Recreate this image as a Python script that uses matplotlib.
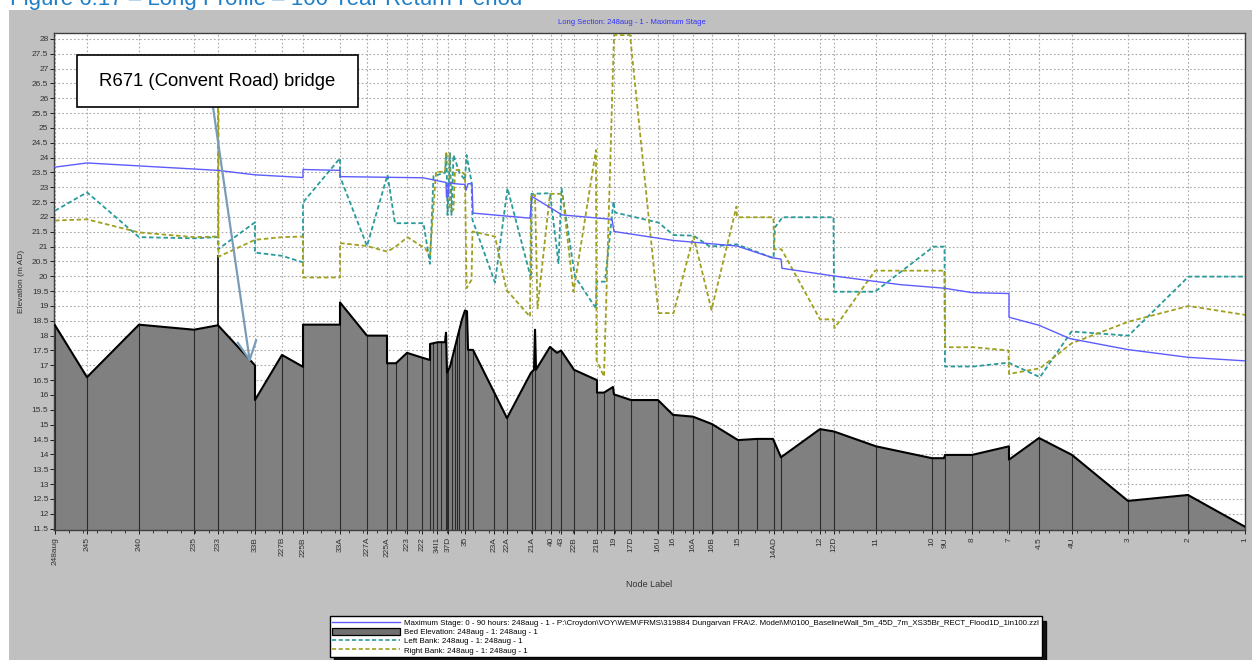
import matplotlib
matplotlib.use("Agg")
import matplotlib.pyplot as plt
import numpy as np
from matplotlib.lines import Line2D
from matplotlib.patches import Patch, Rectangle
from matplotlib.ticker import FixedLocator, MultipleLocator, FormatStrFormatter

plt.rcParams['font.family'] = ['Liberation Sans', 'DejaVu Sans']

# node labels and their chainage along the reach (m)
node_labels = ['248aug', '245', '240', '235', '233', '33B', '227B', '225B', '33A', '227A',
               '225A', '223', '222', '34I1', '37D', '35', '23A', '22A', '21A', '40', '43',
               '22B', '21B', '19', '17D', '16U', '16', '16A', '16B', '15', '14AD', '12',
               '12D', '11', '10', '9U', '8', '7', '4.5', '4U', '3', '2', '1']
node_ch = [0, 64, 168, 278, 326, 400, 454, 496, 570, 624,
           664, 704, 734, 764, 786, 820, 878, 904, 954, 992, 1012,
           1038, 1084, 1118, 1152, 1206, 1236, 1276, 1314, 1366, 1438, 1530,
           1558, 1642, 1754, 1780, 1834, 1908, 1968, 2034, 2146, 2266, 2380]
# unlabelled sections (interpolates, spills, bridge faces)
extra_ch = [682, 750, 756, 772, 782, 784, 794, 800, 804, 808, 826, 836, 960, 1098, 1404, 1452]

# bed elevation (m AD)
bed_ch = [0, 64, 168, 278, 326, 400, 400, 454, 496, 496, 570, 570, 624, 664, 664, 682,
          704, 736, 750, 750, 766, 780, 782, 784, 790, 814, 820, 824, 826, 836, 904,
          952, 958, 960, 962, 990, 1004, 1012, 1038, 1084, 1084, 1098, 1116, 1118,
          1152, 1206, 1236, 1276, 1314, 1366, 1404, 1436, 1452, 1530, 1558, 1642,
          1754, 1778, 1780, 1834, 1908, 1908, 1968, 2034, 2146, 2266, 2380]
bed_z = [18.35, 16.6, 18.37, 18.2, 18.35, 17.0, 15.83, 17.35, 16.95, 18.37, 18.37, 19.12,
         18.0, 18.0, 17.07, 17.07, 17.42, 17.25, 17.18, 17.72, 17.78, 17.78, 18.1, 16.75,
         16.95, 18.55, 18.85, 18.82, 17.52, 17.52, 15.22, 16.75, 16.85, 18.2, 16.85,
         17.62, 17.42, 17.5, 16.85, 16.5, 16.08, 16.08, 16.27, 16.02, 15.83, 15.83,
         15.33, 15.27, 15.02, 14.48, 14.52, 14.52, 13.9, 14.85, 14.77, 14.27, 13.87,
         13.87, 13.98, 13.98, 14.27, 13.82, 14.55, 13.98, 12.43, 12.63, 11.56]
bridge_ch = 326
bridge_soffit = 20.72

# maximum stage, 0 - 90 hours
stage_ch = [0, 64, 326, 400, 496, 496, 570, 570, 736, 780, 782, 783, 786, 787, 814, 820,
            822, 826, 834, 836, 950, 954, 1014, 1114, 1118, 1236, 1364, 1436, 1452,
            1454, 1558, 1690, 1778, 1834, 1908, 1908, 1968, 2030, 2146, 2266, 2380]
stage_z = [23.68, 23.82, 23.57, 23.42, 23.33, 23.6, 23.57, 23.36, 23.32, 23.17, 23.16,
           22.68, 22.68, 23.14, 23.1, 23.1, 22.9, 23.12, 23.12, 22.13, 21.96, 22.69,
           22.07, 21.92, 21.51, 21.21, 21.02, 20.62, 20.58, 20.27, 20.01, 19.72, 19.6,
           19.45, 19.42, 18.62, 18.35, 17.9, 17.53, 17.27, 17.15]

# left bank
left_ch = [0, 64, 168, 278, 326, 326, 400, 400, 454, 496, 496, 570, 570, 624, 665, 680,
           737, 750, 757, 780, 783, 785, 790, 793, 797, 809, 820, 823, 833, 835, 880,
           905, 952, 953, 990, 1007, 1013, 1040, 1082, 1083, 1100, 1117, 1120, 1207,
           1237, 1277, 1310, 1363, 1437, 1440, 1455, 1557, 1558, 1640, 1757, 1779,
           1780, 1837, 1907, 1970, 2033, 2147, 2267, 2380]
left_z = [22.21, 22.83, 21.32, 21.28, 21.32, 20.91, 21.82, 20.8, 20.69, 20.47, 22.49,
          23.98, 23.36, 21.02, 23.42, 21.79, 21.79, 20.42, 23.38, 23.49, 24.15, 22.07,
          24.15, 22.07, 24.09, 23.48, 23.25, 24.09, 23.19, 21.9, 19.79, 22.97, 19.93,
          22.78, 22.8, 20.44, 22.97, 19.99, 18.92, 19.82, 19.82, 22.52, 22.15, 21.81,
          21.39, 21.37, 21.0, 21.08, 20.61, 21.65, 21.99, 21.99, 19.48, 19.48, 21.0,
          21.0, 16.96, 16.96, 17.09, 16.6, 18.14, 18.0, 19.99, 19.99]

# right bank
right_ch = [0, 64, 168, 278, 326, 326, 327, 327, 400, 454, 496, 496, 570, 570, 624, 665,
            683, 705, 740, 750, 762, 780, 782, 789, 789, 797, 800, 809, 820, 823, 833,
            835, 880, 903, 950, 952, 960, 965, 990, 1015, 1037, 1082, 1083, 1098, 1118,
            1150, 1207, 1237, 1277, 1313, 1363, 1364, 1437, 1438, 1453, 1530, 1557,
            1559, 1640, 1779, 1780, 1837, 1907, 1908, 1970, 2033, 2147, 2267, 2380]
right_z = [21.88, 21.92, 21.48, 21.32, 21.34, 27.0, 27.0, 20.66, 21.23, 21.32, 21.34,
           19.96, 19.96, 21.12, 21.02, 20.83, 21.02, 21.32, 20.94, 20.72, 23.52, 23.52,
           24.15, 24.15, 22.24, 22.24, 23.58, 23.58, 23.42, 19.6, 19.88, 21.51, 21.34,
           19.54, 18.64, 22.74, 22.74, 18.92, 22.78, 22.78, 19.48, 24.26, 17.18, 16.62,
           28.13, 28.13, 18.76, 18.76, 21.34, 18.87, 22.35, 21.99, 21.99, 20.91, 20.91,
           18.55, 18.55, 18.25, 20.19, 20.19, 17.61, 17.61, 17.5, 16.71, 16.9, 17.74,
           18.47, 19.0, 18.7]

W, H = 1254, 660
fig = plt.figure(figsize=(W / 100, H / 100), dpi=100)
fig.patch.set_facecolor('white')

# grey chart panel
fig.add_artist(Rectangle((9 / W, 0), 1243 / W, 650 / H, transform=fig.transFigure,
                         facecolor='#c0c0c0', edgecolor='none', zorder=-5))
fig.text(10 / W, 1 - 5 / H, 'Figure 6.17 \u2013 Long Profile \u2013 100 Year Return Period',
         fontsize=16, color='#1f7fc6', va='baseline', ha='left')
fig.text(632 / W, 1 - 23 / H, 'Long Section: 248aug - 1 - Maximum Stage',
         fontsize=5.5, color='#3030ff', ha='center', va='center')

ax = fig.add_axes([54 / W, 1 - 530 / H, (1245 - 54) / W, (530 - 33) / H])
ax.set_facecolor('white')
ax.set_xlim(-2, 2380)
ax.set_ylim(11.45, 28.2)

# bed and cross-section lines
ax.fill_between(bed_ch, 11.0, bed_z, color='#808080', linewidth=0, zorder=2)
sections = sorted(set(node_ch) | set(extra_ch))
sec_top = np.interp(sections, bed_ch, bed_z)
ax.vlines(sections, 11.0, sec_top, color='#2a2a2a', linewidth=0.8, zorder=3)
ax.vlines(bridge_ch, np.interp(bridge_ch, bed_ch, bed_z), bridge_soffit,
          color='black', linewidth=1.2, zorder=3)
ax.plot(bed_ch, bed_z, color='black', linewidth=1.5, zorder=4)

ax.plot(left_ch, left_z, color='#2a9a9a', linewidth=1.3, dashes=(2.5, 1.5), zorder=5)
ax.plot(right_ch, right_z, color='#a0a020', linewidth=1.3, dashes=(2.5, 1.5), zorder=5)
ax.plot(stage_ch, stage_z, color='#5c5cff', linewidth=1.0, zorder=6)

# axes styling
ax.xaxis.set_major_locator(FixedLocator(node_ch))
ax.set_xticklabels(node_labels, rotation=90, fontsize=6, color='#333333')
ax.xaxis.set_minor_locator(MultipleLocator(28))
ax.yaxis.set_major_locator(MultipleLocator(0.5))
ax.yaxis.set_major_formatter(FormatStrFormatter('%g'))
ax.tick_params(axis='y', labelsize=6, labelcolor='#333333', length=3, width=0.6, pad=1)
ax.tick_params(axis='x', which='major', length=3, width=0.6, pad=2)
ax.tick_params(axis='x', which='minor', length=2, width=0.5)
ax.set_axisbelow(True)
ax.grid(True, which='major', color='#a8a8a8', linewidth=0.8, linestyle=(0, (1.5, 2)))
for side in ax.spines.values():
    side.set_color('#404040')
    side.set_linewidth(1.0)
ax.set_ylabel('Elevation (m AD)', fontsize=6, color='#333333')
ax.yaxis.set_label_coords(-0.024, 0.5)
ax.set_xlabel('Node Label', fontsize=6.5, color='#333333')
ax.xaxis.set_label_coords(0.5, -0.1)

# bridge note
fig.add_artist(Rectangle((77 / W, 1 - 107 / H), 281 / W, 52 / H, transform=fig.transFigure,
                         facecolor='white', edgecolor='black', linewidth=1.2, zorder=10))
fig.text(217.5 / W, 1 - 81 / H, 'R671 (Convent Road) bridge', fontsize=13.3,
         ha='center', va='center', zorder=11)
ax.annotate('', xy=(390, 17.1), xycoords='data',
            xytext=(213 / W, 1 - 107 / H), textcoords='figure fraction',
            arrowprops=dict(arrowstyle='->,head_length=0.9,head_width=0.45',
                            mutation_scale=15, color='#7a9cb8', linewidth=1.6,
                            shrinkA=0, shrinkB=0),
            zorder=9, annotation_clip=False)

handles = [Line2D([], [], color='#5c5cff', linewidth=1.0),
           Patch(facecolor='#707070', edgecolor='black', linewidth=0.9),
           Line2D([], [], color='#2a9a9a', linewidth=1.2, dashes=(2.5, 1.5)),
           Line2D([], [], color='#a0a020', linewidth=1.2, dashes=(2.5, 1.5))]
labels = ['Maximum Stage: 0 - 90 hours: 248aug - 1 - P:\\Croydon\\VOY\\WEM\\FRMS\\319884 Dungarvan '
          'FRA\\2. Model\\M\\0100_BaselineWall_5m_45D_7m_XS35Br_RECT_Flood1D_1in100.zzl',
          'Bed Elevation: 248aug - 1: 248aug - 1',
          'Left Bank: 248aug - 1: 248aug - 1',
          'Right Bank: 248aug - 1: 248aug - 1']
leg = fig.legend(handles, labels, loc='lower left', bbox_to_anchor=(330 / W, 3 / H),
                 fontsize=5.7, frameon=True, fancybox=False, edgecolor='black',
                 handlelength=8.6, handleheight=1.0, handletextpad=0.5, labelspacing=0.12,
                 borderpad=0.3, borderaxespad=0,
                 shadow={'color': 'black', 'alpha': 0.9, 'ox': 3, 'oy': -3})
leg.get_frame().set_linewidth(1.0)

fig.savefig('out.png', dpi=100)
